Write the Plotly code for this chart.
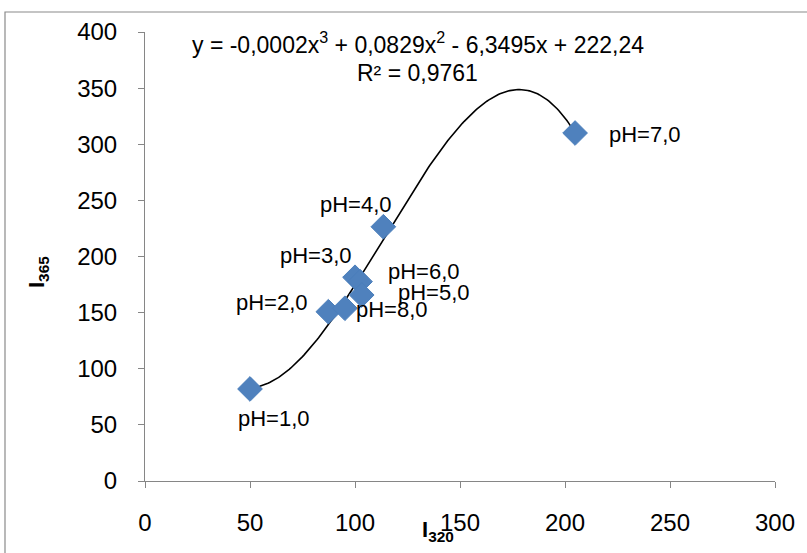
import numpy as np
import plotly.graph_objects as go

# data
labels = ["pH=1,0", "pH=2,0", "pH=8,0", "pH=3,0", "pH=6,0", "pH=5,0", "pH=4,0", "pH=7,0"]
i320 = [50.0, 87.3, 95.2, 100.0, 102.4, 103.2, 113.5, 204.8]
i365 = [82.0, 150.8, 153.9, 181.5, 177.6, 165.7, 226.5, 310.0]
x_ticks = [0, 50, 100, 150, 200, 250, 300]
y_ticks = [0, 50, 100, 150, 200, 250, 300, 350, 400]
equation = "y = -0,0002x<sup>3</sup> + 0,0829x<sup>2</sup> - 6,3495x + 222,24"
r2_text = "R² = 0,9761"

# label offsets (px) for each data label
label_shift = {
    "pH=1,0": (24, -30), "pH=2,0": (-56, 9), "pH=8,0": (47, -1), "pH=3,0": (-39, 22),
    "pH=6,0": (64, 10), "pH=5,0": (72, 3), "pH=4,0": (-27, 22), "pH=7,0": (70, -1),
}

FONT = "Liberation Sans"
L, R, T, B = 145, 32, 32, 72
PW, PH = 807 - L - R, 553 - T - B


def px(xp):
    return (xp - L) / PW


def py(yp):
    return (553 - B - yp) / PH


# polynomial (order 3) trendline fitted to the data, as Excel does
coef = np.polyfit(i320, i365, 3)
xs = np.linspace(min(i320), max(i320), 200)
ys = np.polyval(coef, xs)

fig = go.Figure()
fig.add_trace(go.Scatter(x=xs, y=ys, mode="lines", line=dict(color="black", width=1.6),
                         hoverinfo="skip", showlegend=False))
fig.add_trace(go.Scatter(x=i320, y=i365, mode="markers",
                         marker=dict(symbol="diamond", size=19, color="#4F81BD",
                                     line=dict(color="#4A7EBB", width=1)),
                         showlegend=False))

for lab, xv, yv in zip(labels, i320, i365):
    dx, dy = label_shift[lab]
    fig.add_annotation(x=xv, y=yv, xref="x", yref="y", text=lab, showarrow=False,
                       xanchor="center", yanchor="middle",
                       xshift=dx, yshift=dy, font=dict(family=FONT, size=22, color="black"))

fig.add_annotation(x=px(418), y=py(43), xref="paper", yref="paper", xanchor="center",
                   yanchor="middle", text=equation, showarrow=False,
                   font=dict(family=FONT, size=23, color="black"))
fig.add_annotation(x=px(417), y=py(73), xref="paper", yref="paper", xanchor="center",
                   yanchor="middle", text=r2_text, showarrow=False,
                   font=dict(family=FONT, size=23, color="black"))

# axis titles
fig.add_annotation(x=px(438), y=py(531), xref="paper", yref="paper", xanchor="center",
                   yanchor="middle", text="<b>I<sub>320</sub></b>", showarrow=False,
                   font=dict(family=FONT, size=22, color="black"))
fig.add_annotation(x=px(38), y=py(272), xref="paper", yref="paper", xanchor="center",
                   yanchor="middle", text="<b>I<sub>365</sub></b>", showarrow=False,
                   textangle=-90, font=dict(family=FONT, size=22, color="black"))

# outer chart border (top-left visible part)
fig.add_shape(type="rect", xref="paper", yref="paper",
              x0=px(5), x1=px(860), y0=py(600), y1=py(12),
              line=dict(color="#8a8a8a", width=1.2), fillcolor="rgba(0,0,0,0)", layer="below")

axis_common = dict(showgrid=False, zeroline=False, showline=True, linecolor="#868686",
                   linewidth=1, ticks="outside", tickcolor="#868686", ticklen=6,
                   automargin=False,
                   tickfont=dict(family=FONT, size=24, color="black"))
fig.update_xaxes(range=[0, 300], tickvals=x_ticks, ticklabelstandoff=14, **axis_common)
fig.update_yaxes(range=[0, 400], tickvals=y_ticks, ticklabelstandoff=16, **axis_common)

fig.update_layout(width=807, height=553, plot_bgcolor="white", paper_bgcolor="white",
                  margin=dict(l=L, r=R, t=T, b=B, autoexpand=False), showlegend=False)

fig.write_html("out.html", config={"displayModeBar": False},
               post_script="document.body.style.margin='0px';document.body.style.overflow='hidden';")
